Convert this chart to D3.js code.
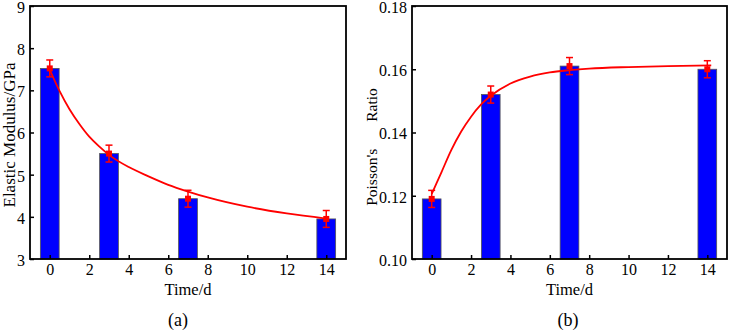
<!DOCTYPE html>
<html>
<head>
<meta charset="utf-8">
<script src="https://cdn.jsdelivr.net/npm/d3@7"></script>
<style>
  body { margin: 0; background: #fff; }
  text { font-family: "Liberation Serif", "Times New Roman", serif; fill: #000; }
</style>
</head>
<body>
<svg id="chart" width="729" height="332"></svg>
<script>
// measured values
var days = [0, 3, 7, 14];
var xTicks = [0, 2, 4, 6, 8, 10, 12, 14];

var modulus = [7.52, 5.5, 4.43, 3.95];
var modulusErr = [0.2, 0.2, 0.2, 0.2];
var modulusTicks = [3, 4, 5, 6, 7, 8, 9];
// fitted curve
var modulusFitT = [0, 0.5, 1, 1.5, 2, 2.5, 3, 4, 5, 6, 7, 8, 10, 12, 14];
var modulusFit = [7.49, 6.98, 6.55, 6.2, 5.9, 5.67, 5.47, 5.18, 4.96, 4.76, 4.6, 4.46, 4.24, 4.08, 3.96];

var poisson = [0.119, 0.152, 0.161, 0.160];
var poissonErr = [0.0027, 0.0027, 0.0027, 0.0027];
var poissonTicks = [0.10, 0.12, 0.14, 0.16, 0.18];
var poissonFitT = [0, 0.5, 1, 1.5, 2, 2.5, 3, 4, 5, 6, 7, 8, 10, 12, 14.2];
var poissonFit = [0.1205, 0.1275, 0.1345, 0.1403, 0.145, 0.1488, 0.1516, 0.1555, 0.1577, 0.159, 0.1597, 0.1602, 0.1607, 0.161, 0.1612];

var svg = d3.select("#chart");
var top_ = 6, bottom = 259;

function drawPanel(opt) {
	var x = d3.scaleLinear().domain([-1, 15]).range([opt.left, opt.right]);
	var y = d3.scaleLinear().domain(opt.yDomain).range([bottom, top_]);
	var g = svg.append("g");
	var barW = x(0.95) - x(0);

	// bars
	g.selectAll("rect.bar").data(days).enter().append("rect")
		.attr("class", "bar")
		.attr("x", function(d) { return x(d) - barW / 2; })
		.attr("y", function(d, i) { return y(opt.values[i]); })
		.attr("width", barW)
		.attr("height", function(d, i) { return y(opt.yDomain[0]) - y(opt.values[i]); })
		.attr("fill", "#0000ff")
		.attr("stroke", "#555")
		.attr("stroke-width", 0.8);

	// fitted curve
	var line = d3.line()
		.x(function(d) { return x(d[0]); })
		.y(function(d) { return y(d[1]); })
		.curve(d3.curveMonotoneX);
	g.append("path")
		.datum(opt.fitT.map(function(t, i) { return [t, opt.fit[i]]; }))
		.attr("d", line)
		.attr("fill", "none")
		.attr("stroke", "#ff0000")
		.attr("stroke-width", 1.8);

	// error bars + markers
	var eb = g.selectAll("g.err").data(days).enter().append("g").attr("class", "err");
	eb.append("line")
		.attr("x1", function(d) { return x(d); })
		.attr("x2", function(d) { return x(d); })
		.attr("y1", function(d, i) { return y(opt.values[i] - opt.err[i]); })
		.attr("y2", function(d, i) { return y(opt.values[i] + opt.err[i]); })
		.attr("stroke", "#ff0000").attr("stroke-width", 1.5);
	[-1, 1].forEach(function(s) {
		eb.append("line")
			.attr("x1", function(d) { return x(d) - 3.5; })
			.attr("x2", function(d) { return x(d) + 3.5; })
			.attr("y1", function(d, i) { return y(opt.values[i] + s * opt.err[i]); })
			.attr("y2", function(d, i) { return y(opt.values[i] + s * opt.err[i]); })
			.attr("stroke", "#ff0000").attr("stroke-width", 1.5);
	});
	eb.append("rect")
		.attr("x", function(d) { return x(d) - 3; })
		.attr("y", function(d, i) { return y(opt.values[i]) - 3; })
		.attr("width", 6).attr("height", 6)
		.attr("fill", "#ff0000");

	// axes (ticks point inward)
	var xAxis = g.append("g").attr("transform", "translate(0," + bottom + ")")
		.call(d3.axisBottom(x).tickValues(xTicks).tickSizeInner(-4).tickSizeOuter(0).tickPadding(5));
	var yAxis = g.append("g").attr("transform", "translate(" + opt.left + ",0)")
		.call(d3.axisLeft(y).tickValues(opt.yTicks).tickFormat(opt.fmt).tickSizeInner(-4).tickSizeOuter(0).tickPadding(5));
	[xAxis, yAxis].forEach(function(a) {
		a.select(".domain").remove();
		a.selectAll(".tick line").attr("stroke", "#000").attr("stroke-width", 1.5);
		a.selectAll(".tick text").style("font-size", "16px").style("font-family", "Liberation Serif");
	});
	yAxis.selectAll(".tick text").attr("dy", "0.4em");

	// frame
	g.append("rect")
		.attr("x", opt.left).attr("y", top_)
		.attr("width", opt.right - opt.left).attr("height", bottom - top_)
		.attr("fill", "none").attr("stroke", "#000").attr("stroke-width", 1.8);

	g.append("text")
		.attr("x", (opt.left + opt.right) / 2).attr("y", 295)
		.attr("text-anchor", "middle").style("font-size", "16.5px")
		.text("Time/d");

	var yl = g.append("text")
		.attr("transform", "translate(" + opt.ylabelX + "," + opt.ylabelY + ") rotate(-90)")
		.attr("text-anchor", "middle").style("font-size", opt.ylabelSize)
		.text(opt.ylabel[0]);
	if (opt.ylabel.length > 1) {
		yl.append("tspan").attr("dx", opt.ylabelGap).text(opt.ylabel[1]);
	}

	g.append("text")
		.attr("x", opt.tagX).attr("y", 326)
		.attr("text-anchor", "middle").style("font-size", "18px")
		.text(opt.tag);
}

drawPanel({
	left: 30, right: 346,
	yDomain: [3, 9], yTicks: modulusTicks, fmt: d3.format("d"),
	values: modulus, err: modulusErr, fitT: modulusFitT, fit: modulusFit,
	ylabel: ["Elastic Modulus/GPa"], ylabelSize: "17px", ylabelX: 15, ylabelY: 135,
	tag: "(a)", tagX: 178
});

drawPanel({
	left: 412, right: 727,
	yDomain: [0.10, 0.18], yTicks: poissonTicks, fmt: d3.format(".2f"),
	values: poisson, err: poissonErr, fitT: poissonFitT, fit: poissonFit,
	ylabel: ["Poisson's", "Ratio"], ylabelGap: 27, ylabelSize: "15.5px", ylabelX: 377, ylabelY: 147,
	tag: "(b)", tagX: 568
});
</script>
</body>
</html>
